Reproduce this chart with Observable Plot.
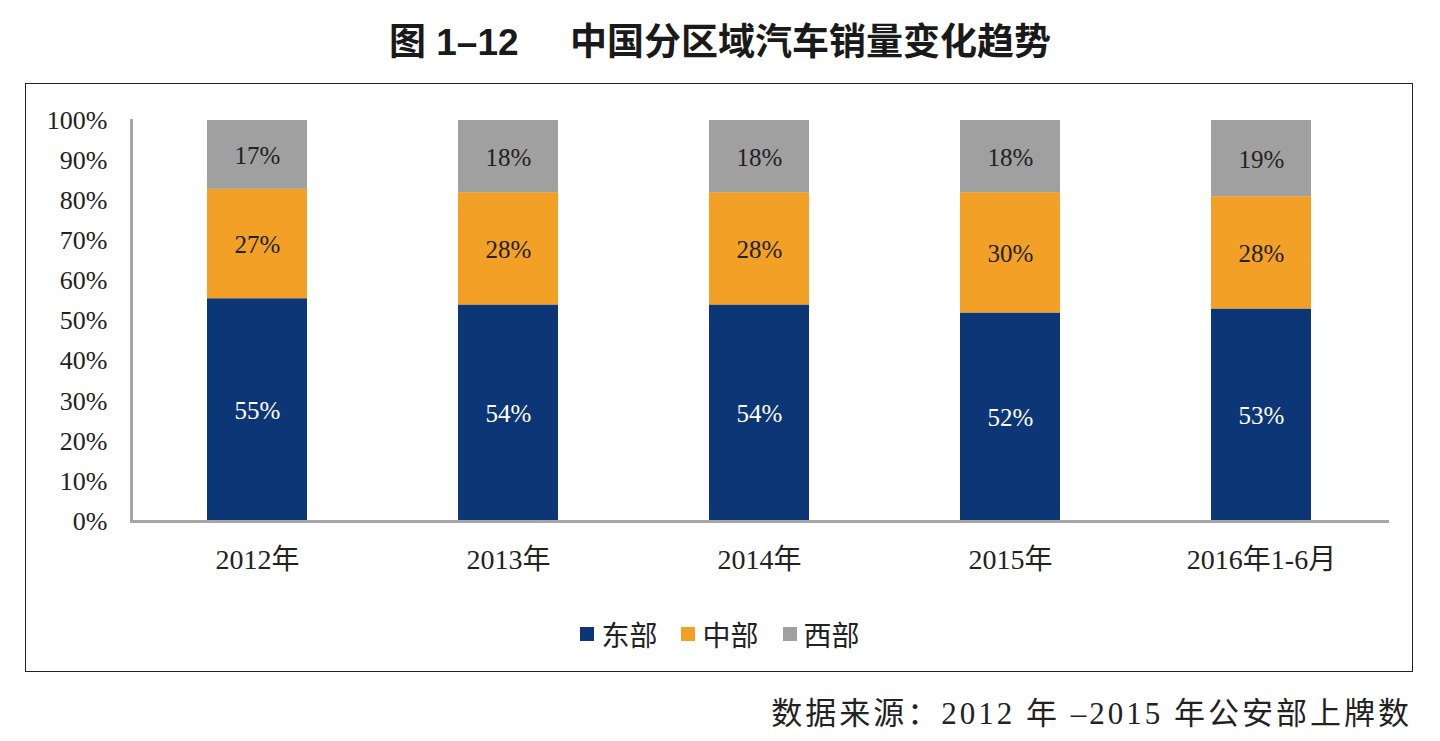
<!DOCTYPE html>
<html><head><meta charset="utf-8">
<script src="https://cdn.jsdelivr.net/npm/d3@7"></script>
<script src="https://cdn.jsdelivr.net/npm/@observablehq/plot@0.6"></script>
<style>
body{margin:0;background:#fff;}
#wrap{position:relative;width:1440px;height:741px;overflow:hidden;font-family:"Liberation Serif","Noto Sans CJK SC",serif;}
#title{position:absolute;top:12px;left:0;width:1440px;text-align:center;font-family:"Liberation Sans","Noto Sans CJK SC",sans-serif;font-weight:bold;font-size:37px;color:#1a1a1a;white-space:pre;}
#box{position:absolute;left:25px;top:83px;width:1386px;height:587px;border:1.5px solid #222;}
#chart{position:absolute;left:0;top:90px;}
#legend{position:absolute;top:614px;left:0;width:1440px;display:flex;justify-content:center;gap:24px;font-size:28px;color:#222;}
#legend span{display:flex;align-items:center;}
#legend i{display:inline-block;width:14px;height:14px;margin-right:7px;}
#source{position:absolute;right:28px;top:688px;font-size:31px;color:#222;letter-spacing:3px;}
</style></head>
<body><div id="wrap">
<div id="title">图 1–12     中国分区域汽车销量变化趋势</div>
<div id="box"></div>
<div id="chart"></div>
<div id="legend"></div>
<div id="source">数据来源：2012 年 –2015 年公安部上牌数</div>
</div>
<script>
const years = ["2012年","2013年","2014年","2015年","2016年1-6月"];
const regions = ["东部","中部","西部"];
const colors = ["#0D3677","#F2A026","#A0A0A0"];
const east = [55,54,54,52,53];
const central = [27,28,28,30,28];
const west = [17,18,18,18,19];
const yTicks = [0,0.1,0.2,0.3,0.4,0.5,0.6,0.7,0.8,0.9,1];

const series = [east, central, west];
const data = [];
years.forEach((y,i)=>{ regions.forEach((r,j)=>{ data.push({year:y, region:r, value:series[j][i]}); }); });

const font = '"Liberation Serif","Noto Sans CJK SC",serif';
const plot = Plot.plot({
  width:1440, height:500,
  marginLeft:131, marginRight:53, marginTop:30, marginBottom:69,
  style:{fontFamily:font, background:"transparent"},
  x:{domain:years, paddingInner:0.6, paddingOuter:0.3, label:null},
  y:{domain:[0,1], label:null},
  color:{domain:regions, range:colors},
  marks:[
    Plot.barY(data, Plot.stackY({offset:"normalize", x:"year", y:"value", fill:"region", order:null})),
    Plot.text(data, Plot.stackY({offset:"normalize", x:"year", y:"value", z:"region", text:d=>d.value+"%", fill:d=>d.region==="东部"?"#ffffff":"#222222", fontSize:25, dy:1, order:null})),
    Plot.axisY({ticks:yTicks, tickFormat:d3.format(".0%"), tickSize:0, tickPadding:24, fontSize:26, fill:"#222"}),
    Plot.axisX({tickSize:0, tickPadding:28, fontSize:28, fill:"#222"}),
    Plot.frame({anchor:"left", stroke:"#A6A6A6", strokeWidth:3}),
    Plot.frame({anchor:"bottom", stroke:"#A6A6A6", strokeWidth:3})
  ]
});
document.getElementById("chart").appendChild(plot);

const lg = document.getElementById("legend");
regions.forEach((r,i)=>{
  const s = document.createElement("span");
  s.innerHTML = `<i style="background:${colors[i]}"></i>${r}`;
  lg.appendChild(s);
});
</script>
</body></html>
